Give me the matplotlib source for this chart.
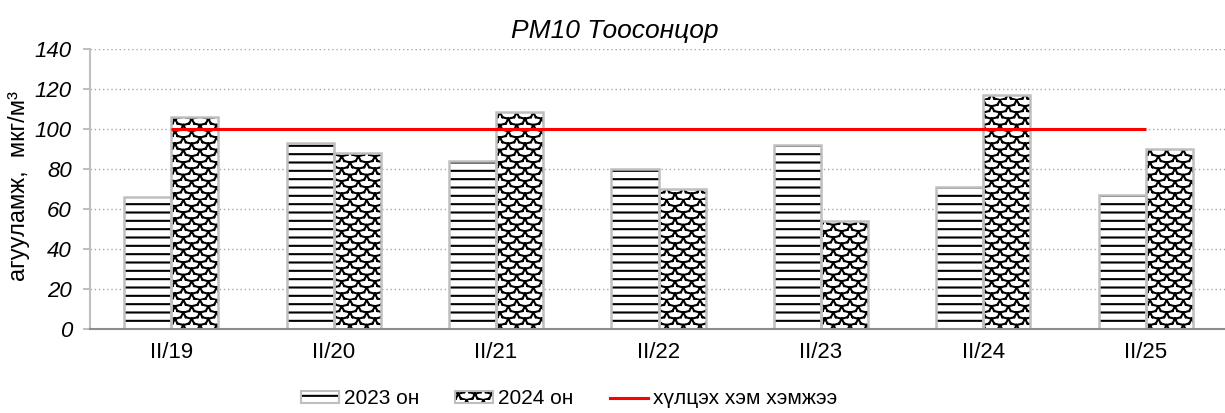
import numpy as np
import matplotlib
matplotlib.use("Agg")
import matplotlib.pyplot as plt
import matplotlib.hatch as mhatch
from matplotlib.patches import Patch
from matplotlib.lines import Line2D
from matplotlib.legend_handler import HandlerTuple
from matplotlib.path import Path

# ---------------- data ----------------
categories = ["II/19", "II/20", "II/21", "II/22", "II/23", "II/24", "II/25"]
values_2023 = [66, 93, 84, 80, 92, 71, 67]
values_2024 = [106, 88, 108.5, 70, 54, 117, 90]
limit_value = 100
series_labels = ["2023 он", "2024 он", "хүлцэх хэм хэмжээ"]
title = "PM10 Тоосонцор"
ylabel = "агууламж,  мкг/м³"
yticks = [0, 20, 40, 60, 80, 100, 120, 140]


# ------------- custom "shingle" hatch (mapped to 'o') -------------
class ShingleHatch(mhatch.HatchPatternBase):
    _rowA = np.array([[0, 1], [0.15, 0.62], [0.5, 0.5], [0.85, 0.62], [1, 1]])
    _rowB = np.array([[0, 0], [0.35, 0.12], [0.5, 0.5], [0.65, 0.12], [1, 0]])

    def __init__(self, hatch, density):
        n = hatch.count('o')
        self.nx = int(n * density)
        self.ny = int(round(n * density * 4 / 3))
        # each polyline of 5 points -> 4 separate segments (8 vertices)
        self.num_vertices = self.nx * self.ny * 2 * 8

    def set_vertices_and_codes(self, vertices, codes):
        k = 0
        for i in range(self.nx):
            for j in range(self.ny):
                for poly in (self._rowA, self._rowB):
                    pts = np.column_stack([(i + poly[:, 0]) / self.nx,
                                           (j + poly[:, 1]) / self.ny])
                    for s in range(4):
                        vertices[k] = pts[s]
                        vertices[k + 1] = pts[s + 1]
                        codes[k] = Path.MOVETO
                        codes[k + 1] = Path.LINETO
                        k += 2


mhatch._hatch_types = [c for c in mhatch._hatch_types
                       if c is not mhatch.SmallCircles] + [ShingleHatch]

plt.rcParams['font.family'] = ['Liberation Sans', 'DejaVu Sans']
plt.rcParams['hatch.linewidth'] = 1.5

W, H = 1225, 413
fig = plt.figure(figsize=(W / 100, H / 100), dpi=100)
ax = fig.add_axes([90 / W, 1 - 329 / H, 1137 / W, 280 / H])

x = np.arange(len(categories))
bw = 0.29
edge_gray = "#bfbfbf"

# hatched fills
ax.bar(x - bw / 2, values_2023, bw, facecolor="white", edgecolor="black",
       hatch="--", linewidth=0, zorder=2)
ax.bar(x + bw / 2, values_2024, bw, facecolor="white", edgecolor="black",
       hatch="o", linewidth=0, zorder=2)
# gray outlines
ax.bar(x - bw / 2, values_2023, bw, fill=False, edgecolor=edge_gray,
       linewidth=1.8, zorder=3)
ax.bar(x + bw / 2, values_2024, bw, fill=False, edgecolor=edge_gray,
       linewidth=1.8, zorder=3)

# limit line
ax.plot([x[0], x[-1]], [limit_value, limit_value], color="#ff0000",
        linewidth=2.2, zorder=4, solid_capstyle="butt")

ax.set_xlim(-0.5, len(categories) - 0.5)
ax.set_ylim(0, 140)
ax.set_yticks(yticks)
ax.set_yticklabels([str(v) for v in yticks], fontsize=16, style="italic")
ax.set_xticks(x)
ax.set_xticklabels(categories, fontsize=16)

ax.grid(axis="y", linestyle=(0, (1, 2)), color="#a6a6a6", linewidth=1.0, zorder=0)
ax.set_axisbelow(True)

for s in ("top", "right"):
    ax.spines[s].set_visible(False)
ax.spines["left"].set_color(edge_gray)
ax.spines["left"].set_linewidth(1.5)
ax.spines["bottom"].set_color("#8c8c8c")
ax.spines["bottom"].set_linewidth(1.5)
ax.spines["bottom"].set_zorder(5)

ax.tick_params(axis="y", length=5, width=1.5, color=edge_gray, pad=8)
ax.tick_params(axis="x", length=0, pad=9)

fig.text(615 / W, 1 - 31 / H, title, fontsize=19, style="italic",
         ha="center", va="center")
fig.text(19 / W, 1 - 186 / H, ylabel, fontsize=17, rotation=90,
         ha="center", va="center")

# legend
h23 = (Patch(facecolor="white", edgecolor="black", hatch="--", linewidth=0),
       Patch(fill=False, edgecolor=edge_gray, linewidth=1.5))
h24 = (Patch(facecolor="white", edgecolor="black", hatch="o", linewidth=0),
       Patch(fill=False, edgecolor=edge_gray, linewidth=1.5))
hlim = Line2D([], [], color="#ff0000", linewidth=2.2)
fig.legend([h23, h24, hlim], series_labels,
           handler_map={tuple: HandlerTuple(ndivide=1, pad=0)},
           loc="center", bbox_to_anchor=(569 / W, 1 - 399 / H), ncol=3,
           frameon=False, fontsize=15, handlelength=1.83, handleheight=0.48,
           handletextpad=0.24, columnspacing=1.73, borderpad=0)

fig.savefig("out.png", dpi=100)
